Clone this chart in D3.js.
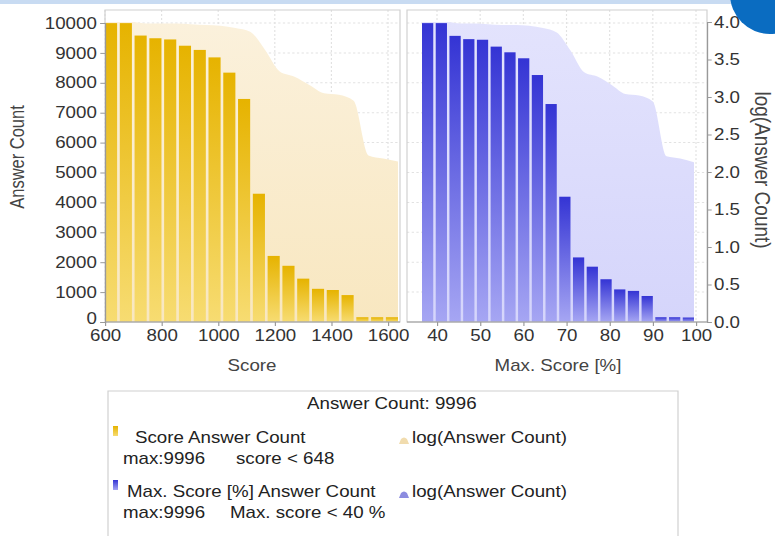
<!DOCTYPE html>
<html>
<head>
<meta charset="utf-8">
<script src="https://cdn.jsdelivr.net/npm/d3@7"></script>
<style>
body { margin: 0; background: #fff; }
svg { display: block; font-family: "Liberation Sans", Arial, sans-serif; }
</style>
</head>
<body>
<div id="chart"></div>
<script>
// values
var scoreBins = ["648", "700", "752", "804", "856", "908", "960", "1012", "1064", "1116",
                 "1168", "1220", "1272", "1324", "1376", "1428", "1480", "1532", "1584", "1636"];
var scoreCounts = [9996, 9996, 9580, 9490, 9450, 9240, 9100, 8850, 8340, 7460,
                   4290, 2210, 1880, 1450, 1110, 1070, 900, 160, 160, 160];
var scoreLog = [4.00, 4.00, 3.98, 3.98, 3.98, 3.97, 3.96, 3.95, 3.92, 3.87,
                3.63, 3.34, 3.27, 3.16, 3.05, 3.03, 2.95, 2.22, 2.18, 2.14];

var pctBins = ["40", "43", "46", "49", "53", "56", "59", "62", "65", "68",
               "72", "75", "78", "81", "84", "87", "91", "94", "97", "100"];
var pctCounts = [9996, 9996, 9570, 9460, 9440, 9210, 9020, 8820, 8260, 7290,
                 4190, 2160, 1850, 1430, 1090, 1040, 870, 160, 160, 150];
var pctLog = [4.00, 4.00, 3.98, 3.98, 3.97, 3.96, 3.96, 3.95, 3.92, 3.86,
              3.62, 3.33, 3.27, 3.16, 3.04, 3.02, 2.94, 2.21, 2.18, 2.13];

var scoreTicks = [600, 800, 1000, 1200, 1400, 1600];
var pctTicks = [40, 50, 60, 70, 80, 90, 100];
var countTicks = [0, 1000, 2000, 3000, 4000, 5000, 6000, 7000, 8000, 9000, 10000];
var logTicks = [0, 0.5, 1, 1.5, 2, 2.5, 3, 3.5, 4];

// the screenshot is stretched sideways, so draw in narrower units
var W = 775, H = 536, SX = 1.17;
function sx(v) { return v / SX; }

var svg = d3.select("#chart").append("svg")
  .attr("width", W).attr("height", H)
  .attr("viewBox", "0 0 " + (W / SX) + " " + H)
  .attr("preserveAspectRatio", "none");

var defs = svg.append("defs");
function grad(id, top, bottom) {
  var g = defs.append("linearGradient").attr("id", id)
    .attr("x1", 0).attr("y1", 0).attr("x2", 0).attr("y2", 1);
  g.append("stop").attr("offset", "0%").attr("stop-color", top);
  g.append("stop").attr("offset", "100%").attr("stop-color", bottom);
}
grad("gold", "#e6b300", "#f7dc72");
grad("beige", "#fbf1dc", "#f8e7c0");
grad("indigo", "#3434d4", "#a6a6f3");
grad("lav", "#e3e3fd", "#d5d5fb");

// header strip
svg.append("rect").attr("x", 0).attr("y", 0).attr("width", sx(745)).attr("height", 4)
  .attr("fill", "#c8dbf2");

var yCount = d3.scaleLinear().domain([0, 10000]).range([322, 23]);
var yLog = d3.scaleLinear().domain([0, 4]).range([322, 22]);

var panels = [
  { left: 105, right: 400, barL: 105, barR: 398, bins: scoreBins, counts: scoreCounts, logs: scoreLog,
    x: d3.scaleLinear().domain([600, 1600]).range([sx(105), sx(388)]), ticks: scoreTicks,
    barFill: "url(#gold)", areaFill: "url(#beige)", title: "Score", titleX: 252 },
  { left: 407, right: 707, barL: 422, barR: 694, bins: pctBins, counts: pctCounts, logs: pctLog,
    x: d3.scaleLinear().domain([40, 100]).range([sx(437), sx(696)]), ticks: pctTicks,
    barFill: "url(#indigo)", areaFill: "url(#lav)", title: "Max. Score [%]", titleX: 558 }
];

panels.forEach(function(p) {
  var g = svg.append("g");
  var band = d3.scaleBand().domain(p.bins).range([sx(p.barL), sx(p.barR)])
    .paddingInner(0.18).paddingOuter(0);

  // grid
  g.selectAll(".hg").data(countTicks.slice(1)).join("line")
    .attr("x1", sx(p.left)).attr("x2", sx(p.right))
    .attr("y1", function(d) { return yCount(d); }).attr("y2", function(d) { return yCount(d); })
    .attr("stroke", "#e2e2e2").attr("stroke-dasharray", "2,2");
  g.selectAll(".vg").data(p.ticks).join("line")
    .attr("x1", function(d) { return p.x(d); }).attr("x2", function(d) { return p.x(d); })
    .attr("y1", 10).attr("y2", 322)
    .attr("stroke", "#e2e2e2").attr("stroke-dasharray", "2,2");

  // log area behind the bars, stepping at each bin's right edge
  var pts = [[band(p.bins[0]), p.logs[0]]].concat(p.bins.map(function(b, i) {
    return [band(b) + band.bandwidth(), p.logs[i]];
  }));
  var area = d3.area().curve(d3.curveMonotoneX)
    .x(function(d) { return d[0]; }).y0(yLog(0)).y1(function(d) { return yLog(d[1]); });
  g.append("path").datum(pts).attr("d", area).attr("fill", p.areaFill);

  g.selectAll(".bar").data(p.counts).join("rect")
    .attr("x", function(d, i) { return band(p.bins[i]); })
    .attr("width", band.bandwidth())
    .attr("y", function(d) { return yCount(d); })
    .attr("height", function(d) { return yCount(0) - yCount(d); })
    .attr("fill", p.barFill);

  // frame
  g.append("rect").attr("x", sx(p.left)).attr("y", 10)
    .attr("width", sx(p.right) - sx(p.left)).attr("height", 312)
    .attr("fill", "none").attr("stroke", "#cfcfcf");

  // bottom axis
  var ax = g.append("g").attr("transform", "translate(0,322)")
    .call(d3.axisBottom(p.x).tickValues(p.ticks).tickFormat(d3.format("d")).tickSize(4).tickPadding(4));
  ax.select(".domain").remove();
  ax.selectAll("line").attr("stroke", "#999");
  ax.selectAll("text").attr("font-size", 16).attr("fill", "#333");
  g.append("line").attr("x1", sx(p.left)).attr("x2", sx(p.right)).attr("y1", 322).attr("y2", 322)
    .attr("stroke", "#999");

  g.append("text").attr("x", sx(p.titleX)).attr("y", 371).attr("text-anchor", "middle")
    .attr("font-size", 16).attr("fill", "#444").text(p.title);
});

// left axis
var la = svg.append("g").attr("transform", "translate(" + sx(105) + ",0)")
  .call(d3.axisLeft(yCount).tickValues(countTicks).tickFormat(d3.format("d")).tickSize(4).tickPadding(3));
la.select(".domain").attr("stroke", "#999");
la.selectAll("line").attr("stroke", "#999");
la.selectAll("text").attr("font-size", 16).attr("fill", "#333");
la.selectAll(".tick").filter(function(d) { return d === 0; }).select("text").attr("dy", "0.1em");
svg.append("text").attr("transform", "translate(" + sx(24) + ",157) rotate(-90)")
  .attr("text-anchor", "middle").attr("font-size", 16.5).attr("fill", "#444").text("Answer Count");

// right axis
var ra = svg.append("g").attr("transform", "translate(" + sx(707) + ",0)")
  .call(d3.axisRight(yLog).tickValues(logTicks).tickFormat(d3.format(".1f")).tickSize(4).tickPadding(2));
ra.select(".domain").attr("stroke", "#999");
ra.selectAll("line").attr("stroke", "#999");
ra.selectAll("text").attr("font-size", 16).attr("fill", "#333");
svg.append("text").attr("transform", "translate(" + sx(755) + ",170) rotate(90)")
  .attr("text-anchor", "middle").attr("font-size", 19).attr("fill", "#444").text("log(Answer Count)");

// corner badge drawn over the right axis labels
svg.append("ellipse").attr("cx", sx(770)).attr("cy", -6).attr("rx", sx(40)).attr("ry", 40)
  .attr("fill", "#0a6cc1");

// legend
var lg = svg.append("g");
lg.append("rect").attr("x", sx(108)).attr("y", 391).attr("width", sx(678) - sx(108)).attr("height", 170)
  .attr("fill", "#fff").attr("stroke", "#d0d0d0");
lg.append("text").attr("x", sx(307)).attr("y", 409).attr("font-size", 16).attr("fill", "#222")
  .text("Answer Count: " + d3.max(scoreCounts));

var legendRows = [
  { y: 443, sw: "url(#gold)", name: "Score Answer Count", nameX: 135, sub: "score < 648", subX: 236,
    logFill: "#f1dcae" },
  { y: 497, sw: "url(#indigo)", name: "Max. Score [%] Answer Count", nameX: 127, sub: "Max. score < 40 %", subX: 230,
    logFill: "#8c8ce0" }
];
legendRows.forEach(function(r) {
  lg.append("rect").attr("x", sx(113)).attr("y", r.y - 17).attr("width", sx(5)).attr("height", 10)
    .attr("fill", r.sw);
  lg.append("text").attr("x", sx(r.nameX)).attr("y", r.y).attr("font-size", 16).attr("fill", "#222").text(r.name);
  lg.append("text").attr("x", sx(123)).attr("y", r.y + 21).attr("font-size", 16).attr("fill", "#222")
    .text("max:" + d3.max(scoreCounts));
  lg.append("text").attr("x", sx(r.subX)).attr("y", r.y + 21).attr("font-size", 16).attr("fill", "#222").text(r.sub);
  lg.append("path")
    .attr("d", "M" + sx(399) + "," + (r.y + 1) + "L" + sx(401) + "," + (r.y - 4) +
      "Q" + sx(404) + "," + (r.y - 7) + " " + sx(407) + "," + (r.y - 4) + "L" + sx(409) + "," + (r.y + 1) + "Z")
    .attr("fill", r.logFill);
  lg.append("text").attr("x", sx(412)).attr("y", r.y).attr("font-size", 16).attr("fill", "#222").text("log(Answer Count)");
});
</script>
</body>
</html>
